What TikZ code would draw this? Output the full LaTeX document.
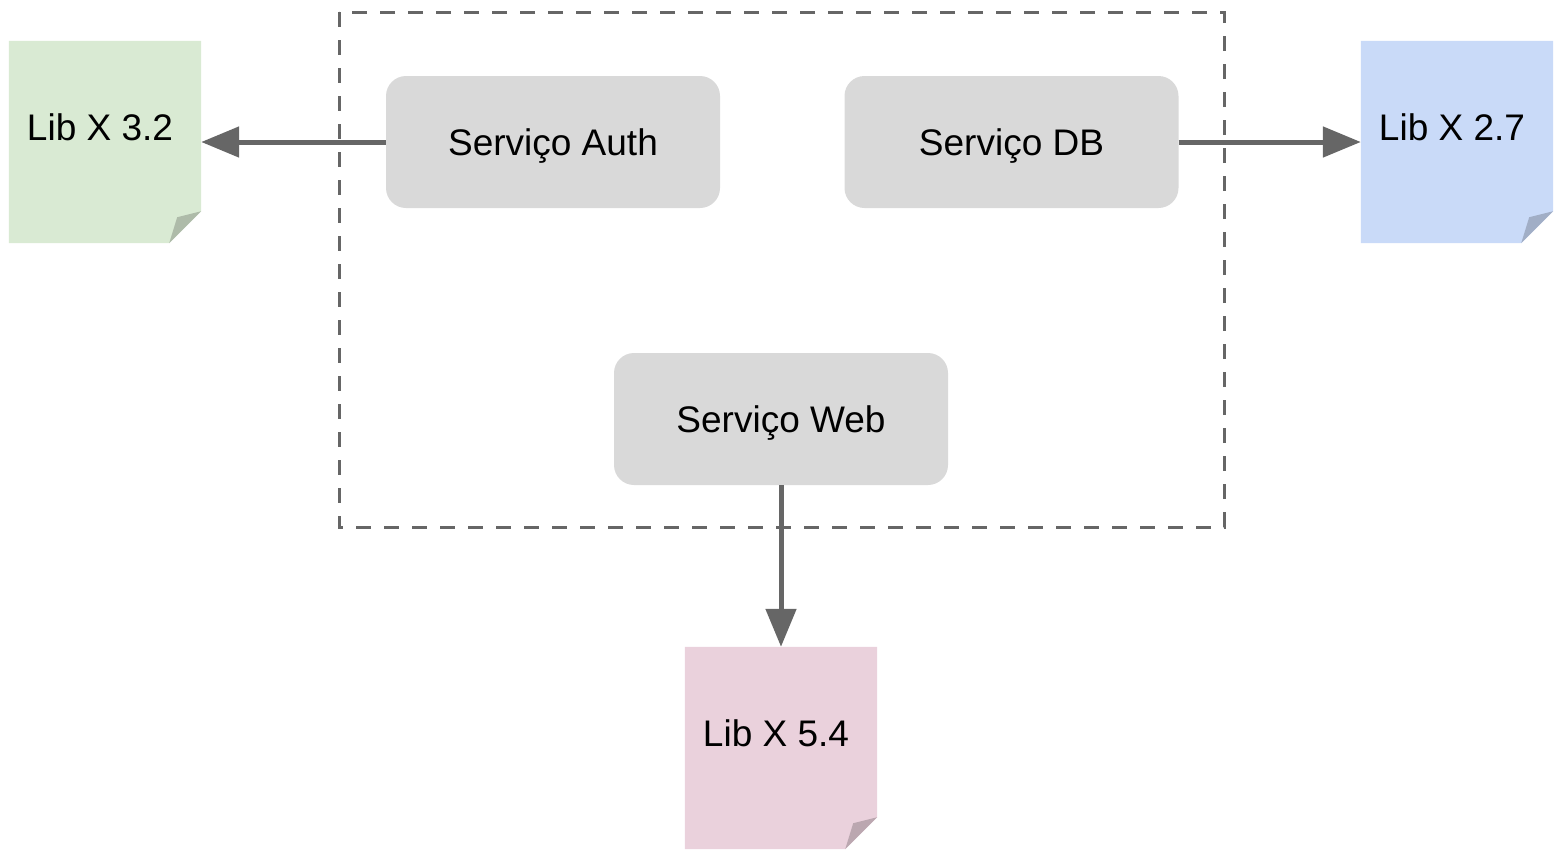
\documentclass[tikz,border=0pt]{standalone}
\usepackage{fontspec}
\setmainfont{Liberation Sans}
\usetikzlibrary{arrows.meta}
\definecolor{boxgray}{HTML}{D9D9D9}
\definecolor{linegray}{HTML}{666666}
\definecolor{notegreen}{HTML}{D9EAD3}
\definecolor{notegreenfold}{HTML}{AEBBA9}
\definecolor{noteblue}{HTML}{C9DAF8}
\definecolor{notebluefold}{HTML}{A1AEC6}
\definecolor{notepink}{HTML}{EAD1DC}
\definecolor{notepinkfold}{HTML}{BBA7B0}
\tikzset{
  label text/.style={font=\fontsize{37}{40}\selectfont, text height=26.5pt, text depth=0pt},
  service/.style={fill=boxgray, rounded corners=20pt, minimum width=334pt,
    minimum height=132pt, inner sep=0pt, label text},
  notebox/.style={minimum width=192pt, minimum height=202pt, inner sep=0pt},
  notetext/.style={inner sep=0pt, label text},
  container/.style={draw=linegray, line width=3pt, dash pattern=on 15pt off 13pt},
  link/.style={draw=linegray, line width=5pt,
    -{Triangle[length=38pt, width=30pt]}}
}
\begin{document}
\begin{tikzpicture}[x=1pt, y=-1pt]
\useasboundingbox (0,0) rectangle (1556,854);

% dashed group around the services
\draw[container] (339,12) rectangle (1224,527);

% services
\node[service] (auth) at (553,142) {Serviço Auth};
\node[service] (db) at (1011.5,142) {Serviço DB};
\node[service] (web) at (781,419) {Serviço Web};

% library notes with a folded bottom-right corner
\node[notebox] (lib32) at (105,142) {};
\node[notebox] (lib27) at (1457,142) {};
\node[notebox] (lib54) at (781,748) {};
\foreach \n/\c in {lib32/notegreen, lib27/noteblue, lib54/notepink}{
  \fill[\c] (\n.north west) -- (\n.north east) -- ([yshift=32pt]\n.south east)
    -- ([xshift=-32pt]\n.south east) -- (\n.south west) -- cycle;
  \fill[\c fold] ([xshift=-32pt]\n.south east) -- ([xshift=-24pt,yshift=26pt]\n.south east)
    -- ([yshift=32pt]\n.south east) -- cycle;
}
\node[notetext] (lib32t) at ([xshift=-5pt,yshift=15pt]lib32.center) {Lib X 3.2};
\node[notetext] (lib27t) at ([xshift=-5pt,yshift=15pt]lib27.center) {Lib X 2.7};
\node[notetext] (lib54t) at ([xshift=-5pt,yshift=15pt]lib54.center) {Lib X 5.4};

% dependencies
\draw[link] (auth.west) -- (lib32.east);
\draw[link] (db.east) -- (lib27.west);
\draw[link] (web.south) -- (lib54.north);
\end{tikzpicture}
\end{document}
